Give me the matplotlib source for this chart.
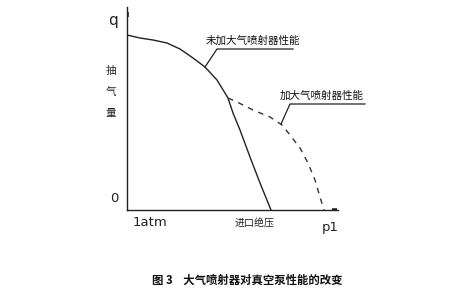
import matplotlib
matplotlib.use("Agg")
import matplotlib.pyplot as plt

plt.rcParams['font.family'] = ['Noto Sans CJK SC', 'DejaVu Sans']

# ─── données (unités du schéma : pression relative / débit aspiré) ─────
p_sans = [0, 13, 26, 40, 53, 66, 78, 90, 101, 106, 113, 123, 133, 144]
q_sans = [175, 172, 170, 167, 161, 152, 143, 130, 112, 97, 80, 53, 27, 0]

p_avec = [101, 110, 126, 143, 155, 163, 173, 181, 188, 193, 197]
q_avec = [112, 108, 100, 93, 85, 75, 62, 47, 30, 13, 0]

label_sans = "未加大气喷射器性能"
label_avec = "加大气喷射器性能"
y_title = ["抽", "气", "量"]
caption = "图 3    大气喷射器对真空泵性能的改变"

W, H = 474, 290
fig = plt.figure(figsize=(W / 100, H / 100), dpi=100)
# axes : origine à (127, 210) px, fin x à 338 px, fin y à 7 px
ax = fig.add_axes([127 / W, (H - 210) / H, (338 - 127) / W, (210 - 7) / H])
ax.set_xlim(0, 211)
ax.set_ylim(0, 203)
ax.axis("off")

lc = "#222222"
ax.plot([0, 211], [0, 0], color=lc, lw=1.0, clip_on=False)
ax.plot([0, 0], [0, 203], color=lc, lw=1.0, clip_on=False)
# petites flèches pleines
ax.plot([205, 210], [0, 0], color=lc, lw=2.6, solid_capstyle="butt")
ax.plot([0, 0], [193, 198], color=lc, lw=2.6, solid_capstyle="butt")

ax.plot(p_sans, q_sans, color=lc, lw=1.0)
ax.plot(p_avec, q_avec, color="#333333", lw=1.0, ls=(0, (4, 4)))

# légendes avec trait de rappel
ax.plot([78, 90, 166], [143, 161, 161], color=lc, lw=0.9)
ax.text(79, 164, label_sans, fontsize=7.6, ha="left", va="bottom", color="#111111")
ax.plot([154, 163, 238], [86, 106, 106], color=lc, lw=0.9, clip_on=False)
ax.text(153, 109, label_avec, fontsize=7.6, ha="left", va="bottom", color="#111111")

# libellés d'axes
ax.text(-14, 190, "q", fontsize=11, ha="center", va="center", color="#222222",
        family="DejaVu Sans")
for i, ch in enumerate(y_title):
    ax.text(-16, 139 - i * 21, ch, fontsize=7.6, ha="center", va="center", color="#222222")
ax.text(-13, 12, "0", fontsize=9.5, ha="center", va="center", color="#222222",
        family="DejaVu Sans")
ax.text(23, -12, "1atm", fontsize=9.5, ha="center", va="center", color="#222222",
        family="DejaVu Sans")
ax.text(128, -13, "进口绝压", fontsize=7.2, ha="center", va="center", color="#222222")
ax.text(203, -17, "p1", fontsize=9.5, ha="center", va="center", color="#222222",
        family="DejaVu Sans")

fig.text(247 / W, 1 - 280 / H, caption, fontsize=8.2, fontweight="bold",
         ha="center", va="center", color="#111111")

fig.savefig("out.png", dpi=100)
